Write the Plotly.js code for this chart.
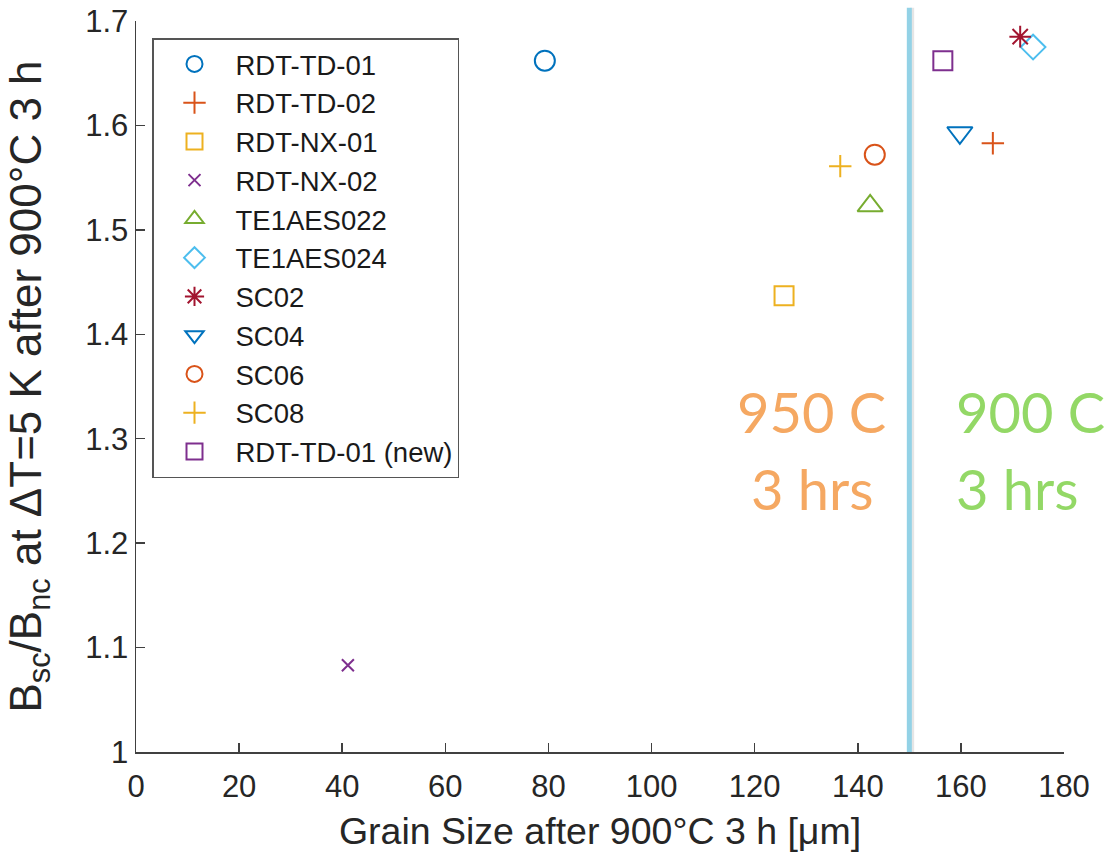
<!DOCTYPE html>
<html>
<head>
<meta charset="utf-8">
<script src="https://cdn.plot.ly/plotly-3.0.1.min.js"></script>
<style>
  html, body { margin: 0; padding: 0; background: #ffffff; }
  #chart { width: 1105px; height: 852px; }
</style>
</head>
<body>
<div id="chart"></div>
<script>
// ---- data ----
const sampleNames = ['RDT-TD-01', 'RDT-TD-02', 'RDT-NX-01', 'RDT-NX-02', 'TE1AES022',
  'TE1AES024', 'SC02', 'SC04', 'SC06', 'SC08', 'RDT-TD-01 (new)'];
const grainSize = [79.3, 166.2, 125.7, 41.1, 142.4, 174.0, 171.5, 159.8, 143.3, 136.6, 156.5];
const bRatio = [1.662, 1.583, 1.437, 1.083, 1.523, 1.675, 1.685, 1.593, 1.572, 1.561, 1.662];

const xTickVals = [0, 20, 40, 60, 80, 100, 120, 140, 160, 180];
const xTickText = ['0', '20', '40', '60', '80', '100', '120', '140', '160', '180'];
const yTickVals = [1, 1.1, 1.2, 1.3, 1.4, 1.5, 1.6, 1.7];
const yTickText = ['1', '1.1', '1.2', '1.3', '1.4', '1.5', '1.6', '1.7'];

const dividerX = 150;
const regionLabels = ['950 C', '3 hrs', '900 C', '3 hrs'];

// ---- styles ----
const markerSymbols = ['circle-open', 'cross-thin-open', 'square-open', 'x-thin-open',
  'triangle-up-open', 'diamond-open', 'asterisk-open', 'triangle-down-open',
  'circle-open', 'cross-thin-open', 'square-open'];
const markerSizes = [20, 16, 19, 12, 22, 19, 18, 22, 20, 16, 19];
const markerColors = ['#0072BD', '#D95319', '#EDB120', '#7E2F8E', '#77AC30', '#4DBEEE',
  '#A2142F', '#0072BD', '#D95319', '#EDB120', '#7E2F8E'];

const traces = sampleNames.map((name, i) => ({
  type: 'scatter',
  mode: 'markers',
  name: name,
  x: [grainSize[i]],
  y: [bRatio[i]],
  cliponaxis: false,
  marker: {
    symbol: markerSymbols[i],
    size: markerSizes[i],
    color: markerColors[i],
    line: { color: markerColors[i], width: 2 }
  }
}));

const fam = 'Liberation Sans, Arial, Helvetica, sans-serif';
const axFont = { family: fam, size: 31, color: '#262626' };
const xLabelFont = { family: fam, size: 37.5, color: '#262626' };
const yLabelFont = { family: fam, size: 44, color: '#262626' };
const annFont = { family: 'Lato, Open Sans, sans-serif', size: 56 };

function px2paperX(px) { return (px - 136) / 928; }
function px2paperY(py) { return (752 - py) / 731; }

const layout = {
  width: 1105,
  height: 852,
  margin: { l: 136, r: 41, t: 21, b: 100, pad: 0 },
  paper_bgcolor: '#ffffff',
  plot_bgcolor: '#ffffff',
  showlegend: true,
  font: axFont,
  xaxis: {
    range: [0, 180],
    tickmode: 'array',
    tickvals: xTickVals,
    ticktext: xTickText,
    ticks: 'inside',
    ticklen: 9,
    tickwidth: 1.5,
    tickcolor: '#404040',
    ticklabelstandoff: 6,
    showline: true,
    linecolor: '#404040',
    linewidth: 1.5,
    showgrid: false,
    zeroline: false,
    mirror: false,
    tickfont: axFont,
    title: { text: 'Grain Size after 900°C 3 h [μm]', font: xLabelFont, standoff: 20 }
  },
  yaxis: {
    range: [1, 1.7],
    tickmode: 'array',
    tickvals: yTickVals,
    ticktext: yTickText,
    ticks: 'inside',
    ticklen: 9,
    tickwidth: 1.5,
    tickcolor: '#404040',
    showline: true,
    linecolor: '#404040',
    linewidth: 1.5,
    showgrid: false,
    zeroline: false,
    mirror: false,
    tickfont: axFont,
    title: { text: 'B<sub>sc</sub>/B<sub>nc</sub> at ΔT=5 K after 900°C 3 h', font: yLabelFont, standoff: 30 }
  },
  legend: {
    x: px2paperX(152),
    y: px2paperY(38),
    xanchor: 'left',
    yanchor: 'top',
    bgcolor: '#ffffff',
    bordercolor: '#555555',
    borderwidth: 1.5,
    itemwidth: 72,
    font: { family: fam, size: 27.5, color: '#1a1a1a' }
  },
  shapes: [
    {
      type: 'line', xref: 'x', yref: 'paper',
      x0: dividerX + 0.55, x1: dividerX + 0.55, y0: 0, y1: 1.018,
      line: { color: 'rgba(0,0,0,0.10)', width: 4 }
    },
    {
      type: 'line', xref: 'x', yref: 'paper',
      x0: dividerX, x1: dividerX, y0: 0, y1: 1.018,
      line: { color: '#93D2E6', width: 5 }
    }
  ],
  annotations: [
    { text: regionLabels[0], xref: 'paper', yref: 'paper', x: px2paperX(735), y: px2paperY(411), xanchor: 'left', yanchor: 'middle', showarrow: false, font: Object.assign({ color: '#F5A862' }, annFont) },
    { text: regionLabels[1], xref: 'paper', yref: 'paper', x: px2paperX(749), y: px2paperY(489), xanchor: 'left', yanchor: 'middle', showarrow: false, font: Object.assign({ color: '#F5A862' }, annFont) },
    { text: regionLabels[2], xref: 'paper', yref: 'paper', x: px2paperX(954), y: px2paperY(411), xanchor: 'left', yanchor: 'middle', showarrow: false, font: Object.assign({ color: '#93D866' }, annFont) },
    { text: regionLabels[3], xref: 'paper', yref: 'paper', x: px2paperX(954), y: px2paperY(489), xanchor: 'left', yanchor: 'middle', showarrow: false, font: Object.assign({ color: '#93D866' }, annFont) }
  ]
};

Plotly.newPlot('chart', traces, layout, { displayModeBar: false, staticPlot: true });
</script>
</body>
</html>
